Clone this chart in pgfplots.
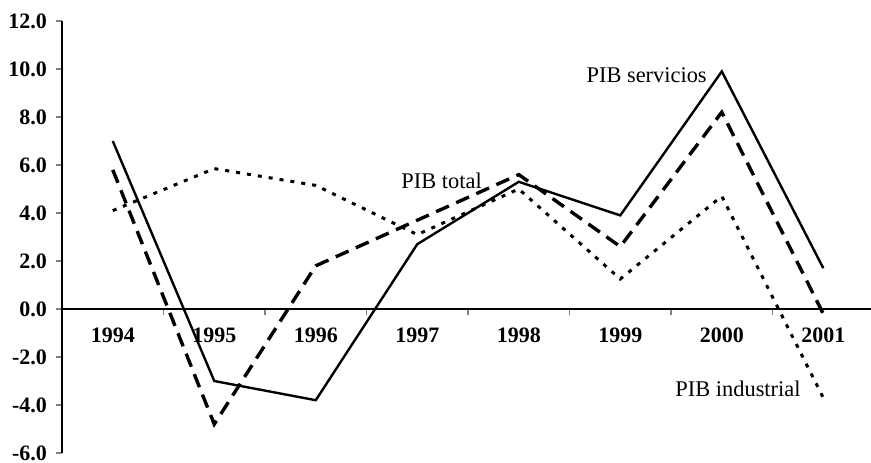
\documentclass[border=0pt]{standalone}
\usepackage{fontspec}
\setmainfont{Liberation Serif}
\usepackage{pgfplots}
\pgfplotsset{compat=1.18}
\begin{document}
\begin{tikzpicture}
\begin{axis}[
  scale only axis,
  width=404.5pt, height=216pt,
  xmin=-0.5, xmax=7.47,
  ymin=-6, ymax=12,
  axis y line=left,
  axis x line=middle,
  axis line style={-, line width=0.8pt},
  xtick={0,...,7},
  xticklabels={1994,1995,1996,1997,1998,1999,2000,2001},
  major x tick style={draw=none},
  minor xtick={0.5,1.5,...,6.5},
  minor x tick style={line width=0.6pt},
  ytick={-6,-4,...,12},
  tick align=outside,
  major tick length=3pt,
  minor tick length=3pt,
  y tick style={line width=0.8pt},
  /pgf/number format/fixed,
  /pgf/number format/fixed zerofill,
  /pgf/number format/precision=1,
  /pgf/number format/assume math mode=true,
  ticklabel style={font=\fontsize{11}{13}\selectfont\bfseries},
  xticklabel style={yshift=-3pt},
  yticklabel style={xshift=-1pt},
  clip=false,
]
\addplot[black, line width=1.2pt] coordinates {
  (0,7.0) (1,-3.0) (2,-3.8) (3,2.7) (4,5.3) (5,3.9) (6,9.9) (7,1.7)};
\addplot[black, line width=1.7pt, dash pattern=on 7pt off 4pt] coordinates {
  (0,5.8) (1,-4.8) (2,1.8) (3,3.7) (4,5.6) (5,2.6) (6,8.2) (7,-0.2)};
\addplot[black, line width=1.5pt, dash pattern=on 2pt off 3.5pt] coordinates {
  (0,4.1) (1,5.85) (2,5.15) (3,3.1) (4,5.0) (5,1.25) (6,4.7) (7,-3.7)};
\node[font=\fontsize{11.2}{13}\selectfont] at (axis cs:5.26,9.73) {PIB servicios};
\node[font=\fontsize{11.2}{13}\selectfont] at (axis cs:3.24,5.35) {PIB total};
\node[font=\fontsize{11.2}{13}\selectfont] at (axis cs:6.16,-3.31) {PIB industrial};
\end{axis}
\pgfresetboundingbox
\path (-31pt,-4.5pt) rectangle (404.5pt,226.5pt);
\end{tikzpicture}
\end{document}
